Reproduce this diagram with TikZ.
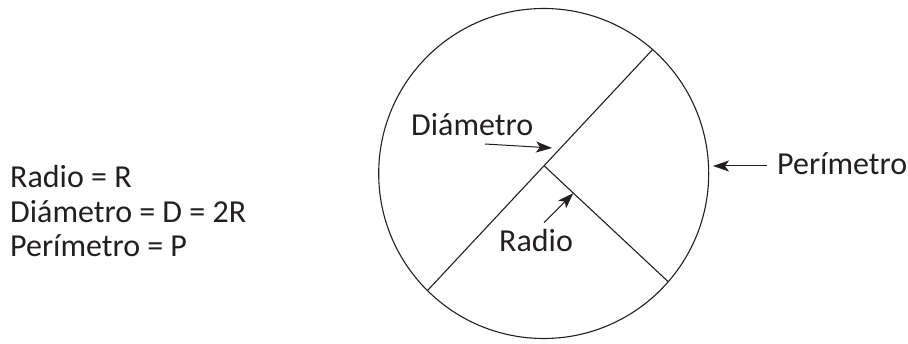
\documentclass[tikz,border=0pt]{standalone}
\usepackage{fontspec}
\setmainfont{Carlito}
\usetikzlibrary{arrows.meta,calc}
\definecolor{inkGray}{HTML}{231F20}

\begin{document}
\begin{tikzpicture}[
  x=1pt, y=1pt,
  font=\fontsize{32}{36}\selectfont,
  every node/.style={text=inkGray, inner sep=0pt},
  rimline/.style={draw=inkGray, line width=1.1pt},
  pointer/.style={draw=inkGray, line width=1pt, -{Stealth[length=16pt, width=11pt, inset=4pt]}},
  tag/.style={anchor=base west}
]
\useasboundingbox (0,0) rectangle (908,343);
\def\rad{165}
\coordinate (c) at (543.7,169.5);
\draw[rimline] (c) circle[radius=\rad];

% diameter and radius
\coordinate (dtop) at ([shift={(48.7:\rad)}]c);
\coordinate (dbot) at ([shift={(225.2:\rad)}]c);
\coordinate (rstart) at ($(dbot)!0.518!(dtop)$);
\coordinate (rend) at ([shift={(-41:\rad)}]c);
\draw[rimline] (dbot) -- (dtop);
\draw[rimline] (rstart) -- (rend);

% summary on the left
\node[tag] (sumR) at (10,155) {Radio = R};
\node[tag] (sumD) at (10,120.5) {Diámetro = D = 2R};
\node[tag] (sumP) at (10,86) {Perímetro = P};

% labels with pointers
\node[tag] (diam) at (411,207) {Diámetro};
\coordinate (diamtip) at (552,195);
\draw[pointer] ([shift={(74,-8)}]diam.base west) -- (diamtip);

\node[tag] (radio) at (499,91.3) {Radio};
\draw[pointer] ([shift={(45,29)}]radio.base west) -- ($(rstart)!0.236!(rend)$);

\node[tag] (per) at (777,168) {Perímetro};
\coordinate (pertip) at (713,177);
\draw[pointer] ([shift={(-10,9)}]per.base west) -- (pertip);
\end{tikzpicture}
\end{document}
